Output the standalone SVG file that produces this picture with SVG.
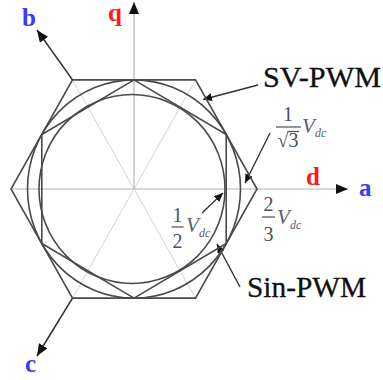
<svg xmlns="http://www.w3.org/2000/svg" width="383" height="380" viewBox="0 0 383 380">
<style>
.shape{fill:none;stroke:#4a4a4a;stroke-width:1.6}
.spoke{fill:none;stroke:#d4d4d4;stroke-width:1}
.axis{fill:none;stroke:#b4b4b4;stroke-width:1.2}
.dark{fill:none;stroke:#333;stroke-width:1.6}
.lead{fill:none;stroke:#333;stroke-width:1.4}
.ax{font-family:"Liberation Serif","Times New Roman",serif;font-weight:bold;font-size:25px}
.blue{fill:#3a3aff}
.red{fill:#ff1a1a}
.lbl{font-family:"Liberation Serif","Times New Roman",serif;font-size:29px;fill:#111;stroke:#111;stroke-width:0.3}
.fr{font-family:"Liberation Serif","Times New Roman",serif;font-size:20px;fill:#4a4f5c;text-anchor:middle}
.v{font-family:"Liberation Serif","Times New Roman",serif;font-style:italic;font-size:21px;fill:#5a6070}
.sub{font-family:"Liberation Serif","Times New Roman",serif;font-style:italic;font-size:12px;fill:#5a6070}
.bar{stroke:#4a4f5c;stroke-width:1.2}
</style>
<defs>
<marker id="big" markerUnits="userSpaceOnUse" markerWidth="13" markerHeight="10" refX="12" refY="5" orient="auto">
<path d="M0,0 L12,5 L0,10 Z" fill="#111"/>
</marker>
<marker id="small" markerUnits="userSpaceOnUse" markerWidth="10" markerHeight="8" refX="9" refY="4" orient="auto">
<path d="M0,0 L9,4 L0,8 Z" fill="#111"/>
</marker>
</defs>
<g id="spokes">
<line class="spoke" x1="134" y1="189" x2="195.5" y2="79.9"/>
<line class="spoke" x1="134" y1="189" x2="72.5" y2="79.9"/>
<line class="spoke" x1="134" y1="189" x2="72.5" y2="298.1"/>
<line class="spoke" x1="134" y1="189" x2="195.5" y2="298.1"/>
</g>
<g id="connectors">
<line class="axis" x1="11" y1="189" x2="348" y2="189" marker-end="url(#big)"/>
<line class="axis" x1="134" y1="189" x2="134" y2="2" marker-end="url(#big)"/>
<line class="dark" x1="72.5" y1="79.9" x2="37" y2="30" marker-end="url(#big)"/>
<line class="dark" x1="72.5" y1="298.1" x2="37" y2="356" marker-end="url(#big)"/>
<line class="lead" x1="258" y1="85" x2="203" y2="99.5" marker-end="url(#small)"/>
<line class="lead" x1="270" y1="133" x2="245" y2="183" marker-end="url(#small)"/>
<line class="lead" x1="202" y1="213" x2="223" y2="193" marker-end="url(#small)"/>
<line class="lead" x1="240" y1="287" x2="217" y2="244" marker-end="url(#small)"/>
</g>
<g id="outer-hexagon">
<polygon class="shape" points="257,189 195.5,79.9 72.5,79.9 11,189 72.5,298.1 195.5,298.1"/>
</g>
<g id="inner-hexagon">
<polygon class="shape" points="134,79.9 226.2,134.45 226.2,243.55 134,298.1 41.8,243.55 41.8,134.45"/>
</g>
<g id="circle-svpwm">
<ellipse class="shape" cx="134" cy="189" rx="106.5" ry="109.1"/>
</g>
<g id="circle-sinpwm">
<ellipse class="shape" cx="132" cy="189" rx="93" ry="94.5"/>
</g>
<g id="label-b"><text class="ax blue" x="22" y="26">b</text></g>
<g id="label-q"><text class="ax red" x="108" y="21">q</text></g>
<g id="label-c"><text class="ax blue" x="25" y="372">c</text></g>
<g id="label-d"><text class="ax red" x="306" y="185">d</text></g>
<g id="label-a"><text class="ax blue" x="359" y="196">a</text></g>
<g id="label-svpwm"><text class="lbl" x="263" y="87" textLength="118" lengthAdjust="spacingAndGlyphs">SV-PWM</text></g>
<g id="label-sinpwm"><text class="lbl" x="247" y="297" textLength="119" lengthAdjust="spacingAndGlyphs">Sin-PWM</text></g>
<g id="label-inv-sqrt3">
<text class="fr" x="288" y="121">1</text>
<line class="bar" x1="276" y1="127" x2="301" y2="127"/>
<text class="fr" x="288" y="147">√3</text>
<line class="bar" x1="287.5" y1="131.5" x2="299" y2="131.5"/>
<text class="v" x="302" y="133">V</text>
<text class="sub" x="315" y="137">dc</text>
</g>
<g id="label-half">
<text class="fr" x="177.5" y="222">1</text>
<line class="bar" x1="171.5" y1="227" x2="183.5" y2="227"/>
<text class="fr" x="177.5" y="248">2</text>
<text class="v" x="186" y="232">V</text>
<text class="sub" x="199" y="237">dc</text>
</g>
<g id="label-two-thirds">
<text class="fr" x="268.5" y="211">2</text>
<line class="bar" x1="262" y1="217" x2="275" y2="217"/>
<text class="fr" x="268.5" y="241">3</text>
<text class="v" x="277" y="224">V</text>
<text class="sub" x="290" y="229">dc</text>
</g>
</svg>
